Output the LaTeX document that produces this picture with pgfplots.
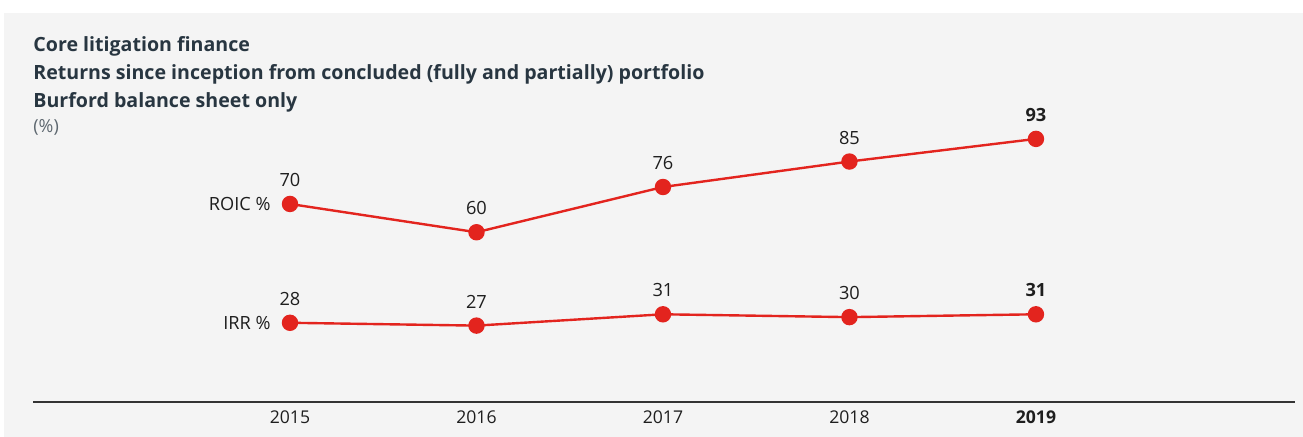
\documentclass[border=0pt]{standalone}
\usepackage{fontspec}
\setmainfont{Open Sans}
\usepackage{pgfplots}
\pgfplotsset{compat=1.18}
\definecolor{bgray}{HTML}{F4F4F4}
\definecolor{bred}{HTML}{E3241E}
\definecolor{ink}{HTML}{1E1E1E}
\definecolor{slate}{HTML}{283641}
\begin{document}
\begin{tikzpicture}
% page and panel (1px = 0.5pt)
\fill[white] (0,0) rectangle (651.5pt,-218.5pt);
\fill[bgray] (2pt,-6.5pt) rectangle (651.5pt,-218.5pt);
% titles
\node[anchor=base west,inner sep=0,text=slate,font=\fontsize{9.8}{11}\selectfont\bfseries] at (16.5pt,-25.8pt) {Core litigation finance};
\node[anchor=base west,inner sep=0,text=slate,font=\fontsize{9.8}{11}\selectfont\bfseries] at (16.5pt,-39.8pt) {Returns since inception from concluded (fully and partially) portfolio};
\node[anchor=base west,inner sep=0,text=slate,font=\fontsize{9.8}{11}\selectfont\bfseries] at (16.5pt,-53.8pt) {Burford balance sheet only};
\node[anchor=base west,inner sep=0,text=slate!75,font=\fontsize{9}{10}\selectfont] at (16.5pt,-66.5pt) {(\%)};
\begin{axis}[
    at={(16.5pt,-201pt)}, anchor=south west,
    scale only axis,
    width=631pt, height=135.8pt,
    xmin=2013.622, xmax=2020.389,
    ymin=0, ymax=96,
    clip=false,
    axis x line*=bottom,
    axis y line=none,
    x axis line style={-, draw=black!80, line width=0.7pt},
    major tick length=0pt,
    xtick={2015,2016,2017,2018,2019},
    xticklabels={2015,2016,2017,2018,\textbf{2019}},
    xticklabel style={anchor=center, yshift=-7.5pt, inner sep=0pt, text=ink, font=\fontsize{8.8}{10}\selectfont},
    ytick=\empty,
    point meta=explicit symbolic,
    nodes near coords,
    every node near coord/.append style={anchor=south, inner sep=0pt, yshift=8pt, text=ink, font=\fontsize{9.1}{10}\selectfont},
]
\addplot[bred, line width=1.2pt, mark=*, mark size=3.5pt, mark options={fill=bred, draw=bred}]
    coordinates {(2015,70) [70] (2016,60) [60] (2017,76) [76] (2018,85) [85] (2019,93) [\textbf{93}]};
\addplot[bred, line width=1.2pt, mark=*, mark size=3.5pt, mark options={fill=bred, draw=bred}]
    coordinates {(2015,28) [28] (2016,27) [27] (2017,31) [31] (2018,30) [30] (2019,31) [\textbf{31}]};
\node[anchor=east, inner sep=0pt, xshift=-9.5pt, text=ink, font=\fontsize{9.1}{10}\selectfont] at (axis cs:2015,70) {ROIC \%};
\node[anchor=east, inner sep=0pt, xshift=-9.5pt, text=ink, font=\fontsize{9.1}{10}\selectfont] at (axis cs:2015,28) {IRR \%};
\end{axis}
\pgfresetboundingbox
\useasboundingbox (0,0) rectangle (651.5pt,-218.5pt);
\end{tikzpicture}
\end{document}
